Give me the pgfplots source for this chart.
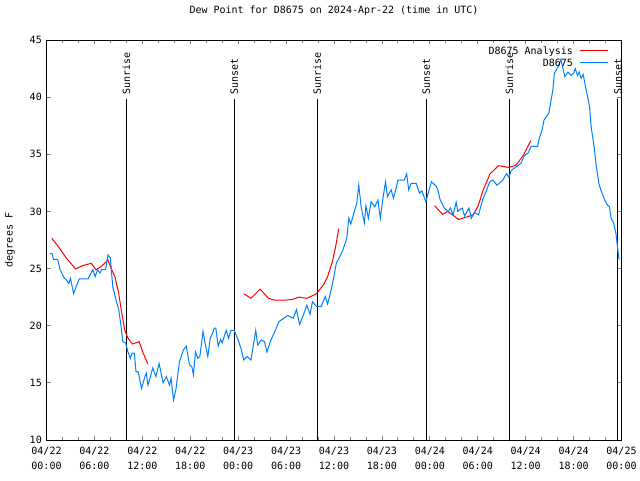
\documentclass[border=0pt]{standalone}
\usepackage{pgfplots}
\pgfplotsset{compat=1.18}
\usepackage{fontspec}
\setmonofont{DejaVu Sans Mono}
\definecolor{obsblue}{RGB}{0,128,255}

\begin{document}
\begin{tikzpicture}
\path[use as bounding box] (0,0) rectangle (480pt,360pt);
\begin{axis}[
  at={(34.875pt,30pt)}, anchor=south west,
  scale only axis, width=431.25pt, height=300pt,
  font=\ttfamily\fontsize{7.5}{9}\selectfont,
  xmin=0, xmax=72, ymin=10, ymax=45,
  xtick={0,6,...,72},
  minor x tick num=2,
  xticklabels={{04/22\\00:00},{04/22\\06:00},{04/22\\12:00},{04/22\\18:00},
               {04/23\\00:00},{04/23\\06:00},{04/23\\12:00},{04/23\\18:00},
               {04/24\\00:00},{04/24\\06:00},{04/24\\12:00},{04/24\\18:00},
               {04/25\\00:00}},
  xticklabel style={align=center, font=\ttfamily\fontsize{7.5}{11.25}\selectfont,
    yshift=-1.5pt},
  ytick={10,15,...,45},
  /pgf/number format/assume math mode=true,
  tick align=inside,
  major tick length=3pt, minor tick length=2.5pt,
  tick style={line width=0.6pt},
  axis line style={line width=0.75pt},
  title={Dew Point for D8675 on 2024-Apr-22 (time in UTC)},
  title style={at={(0.5,1)}, anchor=center, yshift=15.75pt},
  ylabel={degrees F},
  every axis y label/.style={at={(axis description cs:-0.0635,0.5)}, rotate=90,
    anchor=center},
  legend cell align=right,
  legend style={at={(0.982,0.99)}, anchor=north east, draw=none, fill=none,
    inner sep=0pt, row sep=-2.5pt},
]
\addlegendimage{empty legend}
\addlegendentry{D8675 Analysis\hspace{5.5pt}\textcolor{red}{\rule[2.4pt]{21pt}{0.8pt}}}
\addlegendimage{empty legend}
\addlegendentry{D8675\hspace{5.5pt}\textcolor{obsblue}{\rule[2.4pt]{21pt}{0.8pt}}}

% sunrise / sunset markers
\addplot[black, line width=0.75pt, forget plot] coordinates {(10.0,10) (10.0,39.85)}
  node[pos=1, rotate=90, anchor=west, inner sep=3pt] {Sunrise};
\addplot[black, line width=0.75pt, forget plot] coordinates {(23.52,10) (23.52,39.85)}
  node[pos=1, rotate=90, anchor=west, inner sep=3pt] {Sunset};
\addplot[black, line width=0.75pt, forget plot] coordinates {(33.9,10) (33.9,39.85)}
  node[pos=1, rotate=90, anchor=west, inner sep=3pt] {Sunrise};
\addplot[black, line width=0.75pt, forget plot] coordinates {(47.56,10) (47.56,39.85)}
  node[pos=1, rotate=90, anchor=west, inner sep=3pt] {Sunset};
\addplot[black, line width=0.75pt, forget plot] coordinates {(57.95,10) (57.95,39.85)}
  node[pos=1, rotate=90, anchor=west, inner sep=3pt] {Sunrise};
\addplot[black, line width=0.75pt, forget plot] coordinates {(71.55,10) (71.55,39.85)}
  node[pos=1, rotate=90, anchor=west, inner sep=3pt] {Sunset};

% analysis (three runs)
\addplot[red, line width=0.75pt, mark=none, forget plot] coordinates {
(0.66,27.65) (1.5,26.9) (2.5,25.9) (3.63,24.97) (4.5,25.25) (5.6,25.46)
(6.2,24.9) (6.9,25.2) (7.7,25.75) (8.1,25.0) (8.55,24.3) (9.0,23.0)
(9.4,21.2) (9.8,19.6) (10.2,18.9) (10.75,18.4) (11.6,18.6) (12.05,17.7)
(12.7,16.65)};
\addplot[red, line width=0.75pt, mark=none, forget plot] coordinates {
(24.7,22.8) (25.6,22.4) (26.75,23.2) (27.8,22.4) (28.5,22.25) (30.0,22.25)
(30.8,22.3) (31.6,22.5) (32.6,22.4) (33.8,22.8) (34.7,23.6) (35.2,24.3)
(35.8,25.6) (36.2,26.9) (36.6,28.5)};
\addplot[red, line width=0.75pt, mark=none, forget plot] coordinates {
(48.6,30.5) (49.6,29.75) (50.25,30.0) (51.6,29.3) (52.55,29.5) (53.4,29.7)
(54.0,30.4) (54.7,31.9) (55.55,33.3) (56.6,34.0) (57.9,33.85) (58.8,34.05)
(59.7,34.9) (60.65,36.2)};

% observations
\addplot[obsblue, line width=0.75pt, mark=none, forget plot] coordinates {
(0.38,26.3) (0.7,26.3) (0.88,25.8) (1.4,25.8) (1.7,24.9) (2.25,24.15)
(2.5,24.0) (2.8,23.7) (3.0,24.15) (3.4,22.8) (3.7,23.4) (4.1,24.1)
(5.2,24.1) (5.8,24.9) (6.1,24.3) (6.4,24.9) (6.7,24.6) (6.9,24.9)
(7.4,24.9) (7.7,26.2) (8.0,25.9) (8.3,23.4) (8.6,22.55) (9.05,21.4)
(9.35,19.9) (9.55,18.6) (9.9,18.5) (10.2,17.7) (10.5,17.15) (10.7,17.6)
(11.0,17.6) (11.2,16.0) (11.5,15.95) (11.9,14.5) (12.3,15.5) (12.5,15.85)
(12.7,14.8) (13.0,15.5) (13.3,16.3) (13.7,15.55) (14.1,16.7) (14.6,15.0)
(15.0,15.55) (15.4,14.8) (15.6,15.4) (15.9,13.5) (16.2,14.4) (16.65,16.85)
(17.15,17.9) (17.5,18.2) (17.9,16.6) (18.2,16.4) (18.4,15.7) (18.65,17.7)
(18.95,17.15) (19.2,17.3) (19.6,19.5) (19.9,18.3) (20.2,17.3) (20.5,18.9)
(20.8,19.35) (21.0,19.8) (21.2,19.8) (21.5,18.2) (21.8,18.8) (22.0,18.5)
(22.5,19.6) (22.8,18.9) (23.1,19.6) (23.5,19.6) (24.0,18.75) (24.4,17.9)
(24.7,17.0) (25.1,17.3) (25.6,17.0) (26.2,19.6) (26.45,18.3) (26.9,18.75)
(27.3,18.6) (27.6,17.7) (28.1,18.75) (28.5,19.35) (29.1,20.35) (29.6,20.6)
(30.2,20.9) (30.9,20.65) (31.3,21.4) (31.7,20.1) (32.2,21.0) (32.6,21.8)
(33.0,21.0) (33.3,22.1) (33.8,21.7) (34.4,21.7) (34.9,22.55) (35.2,21.9)
(35.5,22.7) (35.9,24.0) (36.3,25.5) (36.7,26.0) (37.1,26.6) (37.6,27.65)
(37.85,29.4) (38.1,28.9) (38.55,30.0) (38.85,30.7) (39.1,32.3) (39.4,30.4)
(39.8,29.0) (40.0,30.5) (40.3,29.4) (40.65,30.85) (41.1,30.4) (41.5,31.0)
(41.8,29.4) (42.1,31.0) (42.45,32.6) (42.7,31.3) (43.15,31.9) (43.45,31.15)
(43.8,32.1) (44.0,32.75) (44.8,32.75) (45.1,33.3) (45.35,31.9) (45.65,32.45)
(46.3,32.45) (46.7,31.6) (47.0,31.8) (47.5,30.85) (48.2,32.6) (48.8,32.2)
(49.0,31.9) (49.3,31.0) (49.8,30.3) (50.3,30.0) (50.6,30.3) (50.9,29.7)
(51.3,30.8) (51.5,30.0) (52.05,30.3) (52.35,29.6) (52.9,30.3) (53.2,29.4)
(53.6,29.9) (54.1,29.7) (54.6,31.0) (55.05,31.75) (55.5,32.6) (55.9,32.75)
(56.4,32.3) (57.1,32.7) (57.6,33.3) (57.9,33.0) (58.2,33.6) (58.6,33.8)
(59.1,34.05) (59.4,34.2) (59.85,34.9) (60.3,35.1) (60.7,35.7) (61.5,35.7)
(61.7,36.4) (62.05,37.1) (62.3,38.0) (62.9,38.6) (63.4,40.6) (63.6,42.1)
(64.1,42.7) (64.4,43.3) (64.6,42.7) (64.9,41.8) (65.3,42.2) (65.7,41.9)
(66.0,42.1) (66.2,42.5) (66.5,41.9) (66.7,42.2) (66.95,41.65) (67.2,42.0)
(67.5,40.9) (68.0,39.2) (68.2,37.4) (68.6,35.5) (68.8,34.2) (69.15,32.5)
(69.4,31.9) (69.9,31.0) (70.2,30.6) (70.5,30.4) (70.7,29.4) (71.0,29.0)
(71.3,28.1) (71.4,27.5) (71.6,26.3) (71.7,25.8)};
\end{axis}
\end{tikzpicture}
\end{document}
